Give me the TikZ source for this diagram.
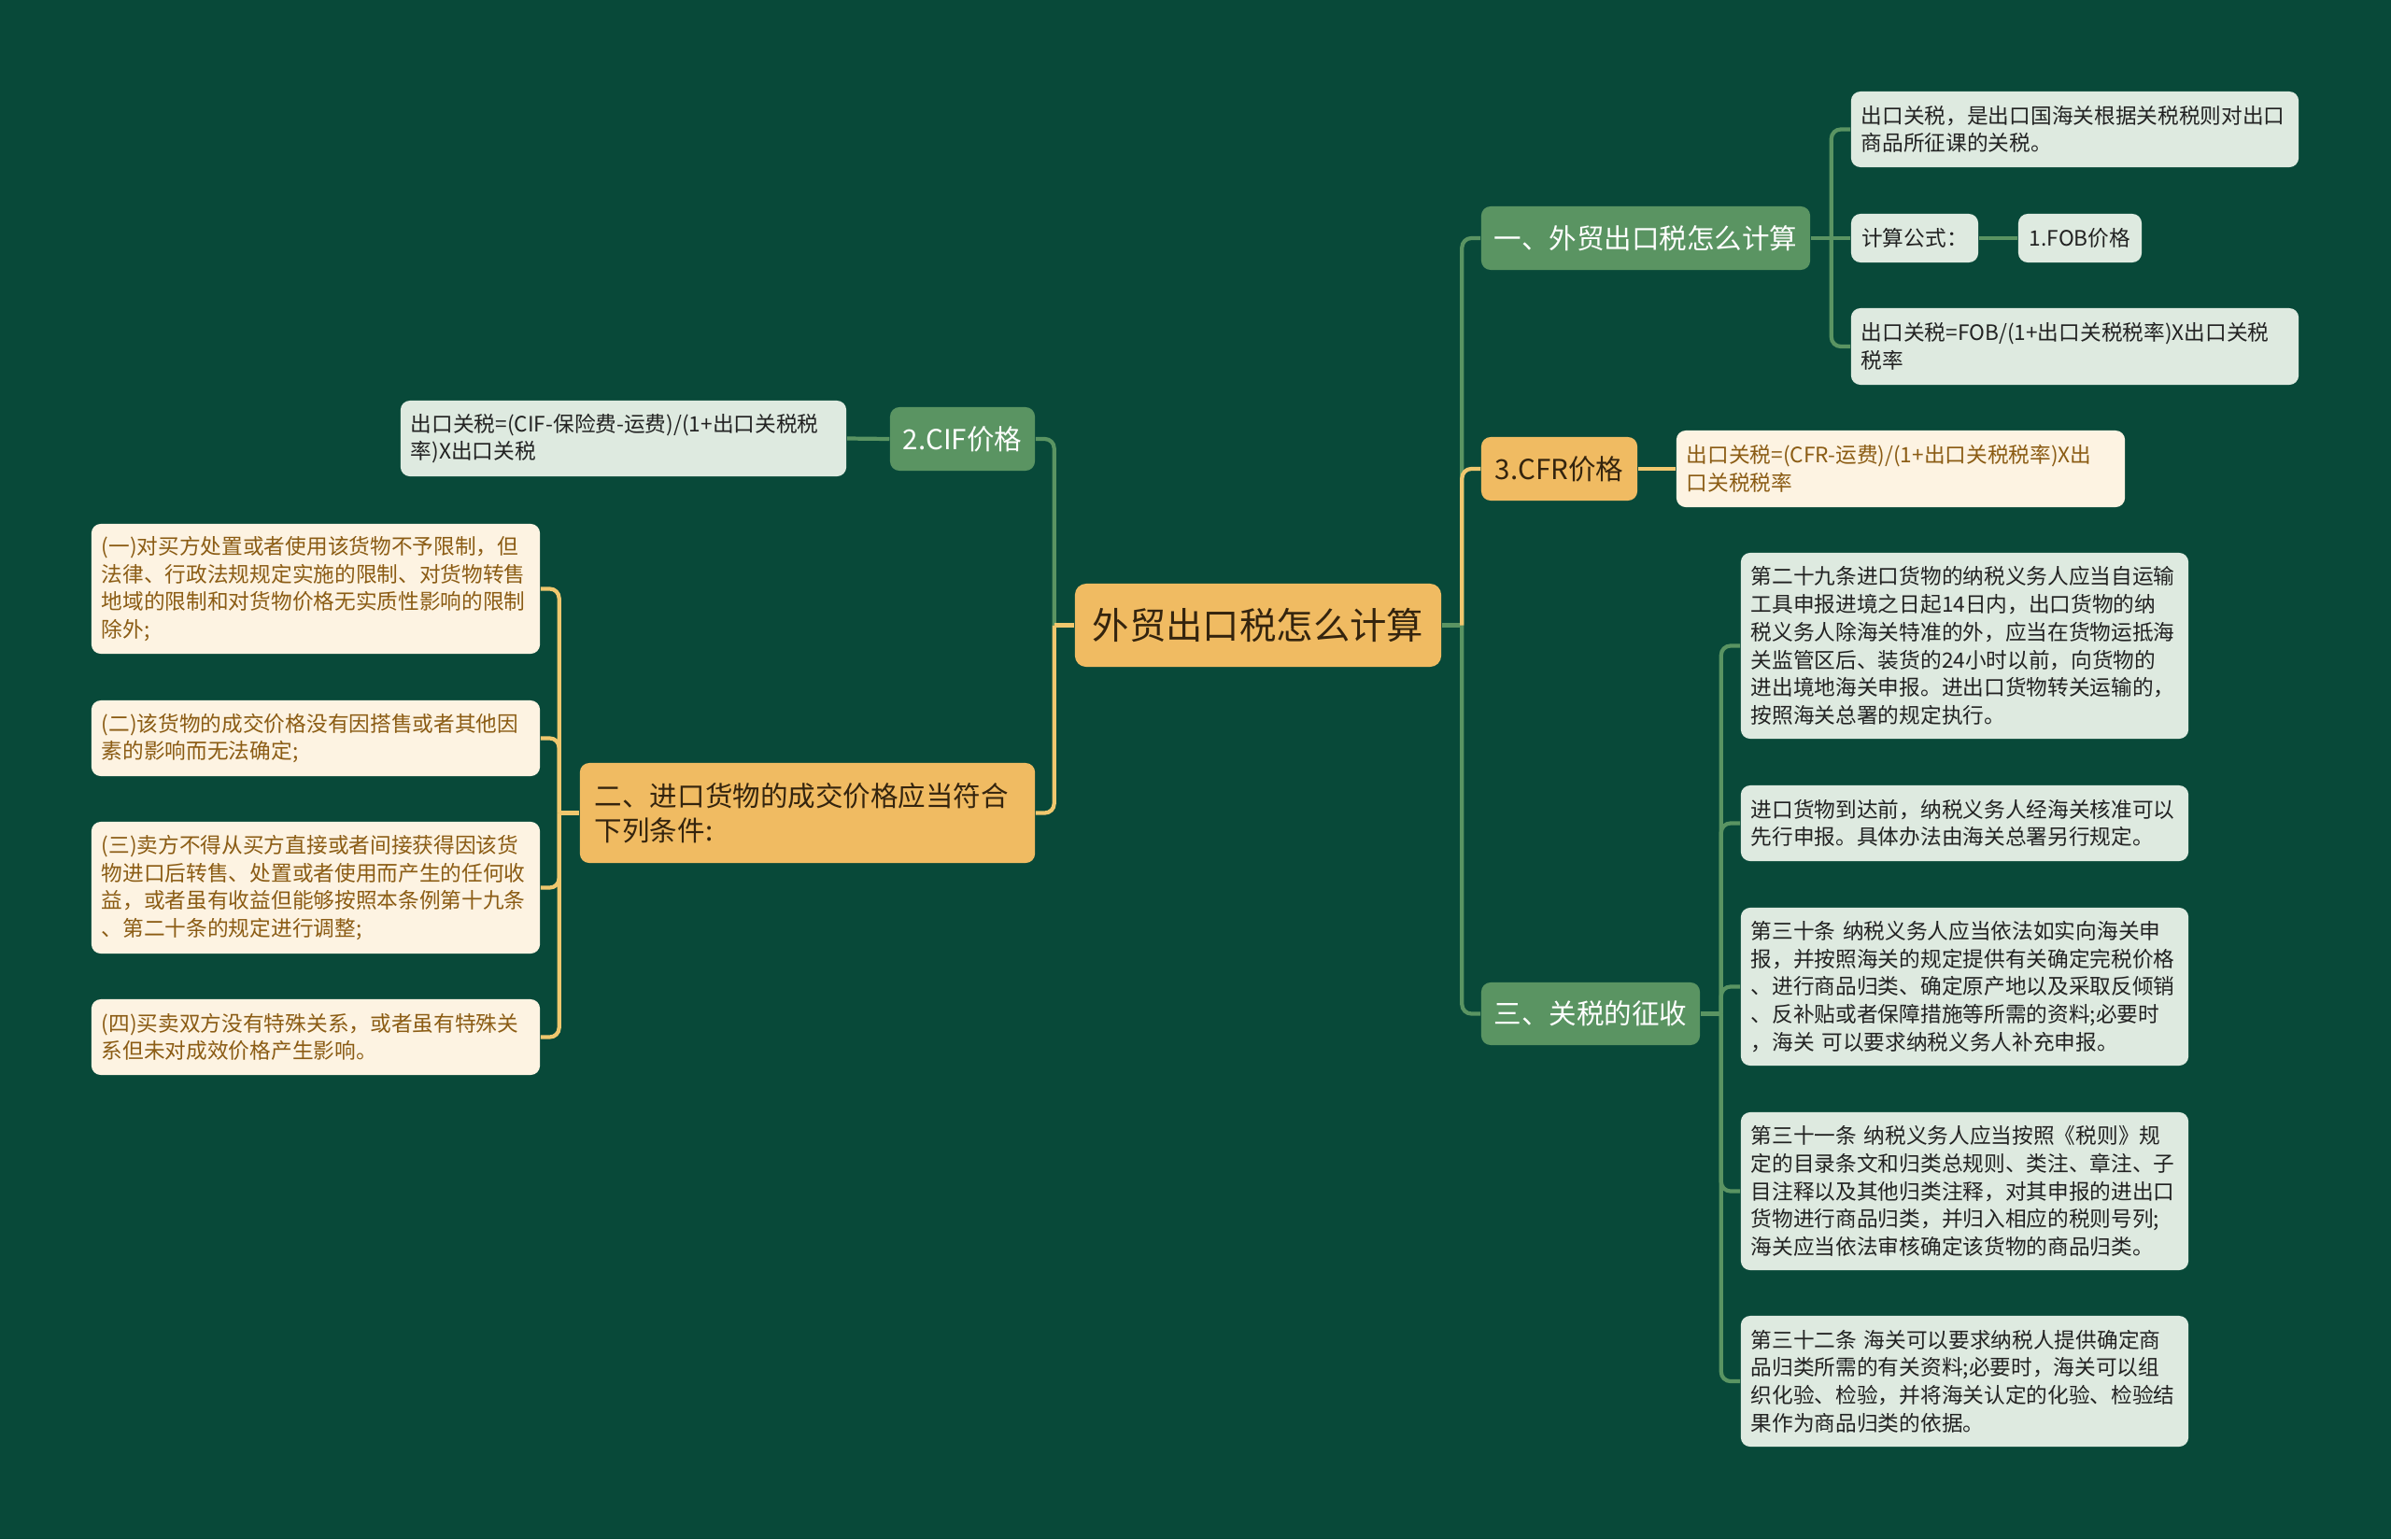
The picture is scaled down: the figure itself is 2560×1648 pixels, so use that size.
\documentclass[tikz,border=0pt]{standalone}
\usepackage{fontspec}
\setmainfont{Noto Sans CJK SC}
\usepackage{tikz}
\definecolor{bgdark}{RGB}{8, 73, 57}
\definecolor{nodegreen}{RGB}{90, 148, 98}
\definecolor{topicorange}{RGB}{240, 187, 98}
\definecolor{topicink}{RGB}{52, 36, 14}
\definecolor{leafmint}{RGB}{222, 234, 224}
\definecolor{leafink}{RGB}{34, 34, 34}
\definecolor{leafbeige}{RGB}{253, 243, 226}
\definecolor{leafbrown}{RGB}{139, 92, 20}
\definecolor{linkyellow}{RGB}{240, 199, 110}

\begin{document}
\begin{tikzpicture}[x=0.01cm, y=-0.01cm,
    topic/.style={fill=topicorange, text=topicink, rounded corners=0.12cm, inner sep=0pt, font=\fontsize{11.2pt}{13pt}\selectfont},
    branchgreen/.style={fill=nodegreen, text=white, rounded corners=0.1cm, inner sep=0pt, font=\fontsize{8.4pt}{10.4pt}\selectfont},
    branchorange/.style={fill=topicorange, text=topicink, rounded corners=0.1cm, inner sep=0pt, font=\fontsize{8.4pt}{10.4pt}\selectfont},
    leafbox/.style={fill=leafmint, text=leafink, rounded corners=0.1cm, inner xsep=0.11cm, inner ysep=0pt, align=left, font=\fontsize{6.45pt}{8.45pt}\selectfont},
    leafcream/.style={leafbox, fill=leafbeige, text=leafbrown},
    greenlink/.style={draw=nodegreen, line width=1.2pt, rounded corners=0.1cm},
    yellowlink/.style={draw=linkyellow, line width=1.2pt, rounded corners=0.1cm}]

    % Background
    \useasboundingbox (0,0) rectangle (2560,1648);
    \fill[bgdark] (0,0) rectangle (2560,1648);

    % ==== Central topic ====
    \node[topic, minimum width=3.92cm, minimum height=0.89cm] (root) at (1347,669.5) {外贸出口税怎么计算};

    % ==== Right: how to compute ====
    \node[branchgreen, minimum width=3.52cm, minimum height=0.68cm] (calc) at (1762,255) {一、外贸出口税怎么计算};
    \node[leafbox, minimum width=4.79cm, minimum height=0.81cm, text width=4.57cm] (calcdef) at (2221.5,138.5) {出口关税，是出口国海关根据关税税则对出口\\商品所征课的关税。};
    \node[leafbox, minimum width=1.36cm, minimum height=0.52cm, align=center, inner xsep=0pt] (formula) at (2050,255) {计算公式：};
    \node[leafbox, minimum width=1.32cm, minimum height=0.52cm, align=center, inner xsep=0pt] (fob) at (2227,255) {1.FOB价格};
    \node[leafbox, minimum width=4.79cm, minimum height=0.82cm, text width=4.57cm] (fobeq) at (2221.5,371) {出口关税=FOB/(1+出口关税税率)X出口关税\\税率};

    % ==== Right: CFR ====
    \node[branchorange, minimum width=1.67cm, minimum height=0.68cm] (cfr) at (1669.5,502) {3.CFR价格};
    \node[leafcream, minimum width=4.80cm, minimum height=0.82cm, text width=4.58cm] (cfreq) at (2035,502) {出口关税=(CFR-运费)/(1+出口关税税率)X出\\口关税税率};

    % ==== Right: levy ====
    \node[branchgreen, minimum width=2.34cm, minimum height=0.67cm] (levy) at (1703,1085.5) {三、关税的征收};
    \node[leafbox, minimum width=4.79cm, minimum height=1.99cm, text width=4.57cm] (art29) at (2103.5,691.5) {第二十九条进口货物的纳税义务人应当自运输\\工具申报进境之日起14日内，出口货物的纳\\税义务人除海关特准的外，应当在货物运抵海\\关监管区后、装货的24小时以前，向货物的\\进出境地海关申报。进出口货物转关运输的，\\按照海关总署的规定执行。};
    \node[leafbox, minimum width=4.79cm, minimum height=0.81cm, text width=4.57cm] (early) at (2103.5,881.5) {进口货物到达前，纳税义务人经海关核准可以\\先行申报。具体办法由海关总署另行规定。};
    \node[leafbox, minimum width=4.79cm, minimum height=1.69cm, text width=4.57cm] (art30) at (2103.5,1056.5) {第三十条~纳税义务人应当依法如实向海关申\\报，并按照海关的规定提供有关确定完税价格\\、进行商品归类、确定原产地以及采取反倾销\\、反补贴或者保障措施等所需的资料;必要时\\，海关~可以要求纳税义务人补充申报。};
    \node[leafbox, minimum width=4.79cm, minimum height=1.69cm, text width=4.57cm] (art31) at (2103.5,1275.5) {第三十一条~纳税义务人应当按照《税则》规\\定的目录条文和归类总规则、类注、章注、子\\目注释以及其他归类注释，对其申报的进出口\\货物进行商品归类，并归入相应的税则号列;\\海关应当依法审核确定该货物的商品归类。};
    \node[leafbox, minimum width=4.79cm, minimum height=1.40cm, text width=4.57cm] (art32) at (2103.5,1479) {第三十二条~海关可以要求纳税人提供确定商\\品归类所需的有关资料;必要时，海关可以组\\织化验、检验，并将海关认定的化验、检验结\\果作为商品归类的依据。};

    % ==== Left: CIF ====
    \node[branchgreen, minimum width=1.55cm, minimum height=0.68cm] (cif) at (1030.5,470) {2.CIF价格};
    \node[leafbox, minimum width=4.77cm, minimum height=0.81cm, text width=4.55cm] (cifeq) at (667.5,469.5) {出口关税=(CIF-保险费-运费)/(1+出口关税税\\率)X出口关税};

    % ==== Left: conditions ====
    \node[branchorange, minimum width=4.87cm, minimum height=1.07cm, align=left, text width=4.55cm, inner xsep=0.16cm] (cond) at (864.5,870.5) {二、进口货物的成交价格应当符合\\下列条件:};
    \node[leafcream, minimum width=4.80cm, minimum height=1.39cm, text width=4.58cm] (cond1) at (338,630.5) {(一)对买方处置或者使用该货物不予限制，但\\法律、行政法规规定实施的限制、对货物转售\\地域的限制和对货物价格无实质性影响的限制\\除外;};
    \node[leafcream, minimum width=4.80cm, minimum height=0.81cm, text width=4.58cm] (cond2) at (338,790.5) {(二)该货物的成交价格没有因搭售或者其他因\\素的影响而无法确定;};
    \node[leafcream, minimum width=4.80cm, minimum height=1.41cm, text width=4.58cm] (cond3) at (338,950.5) {(三)卖方不得从买方直接或者间接获得因该货\\物进口后转售、处置或者使用而产生的任何收\\益，或者虽有收益但能够按照本条例第十九条\\、第二十条的规定进行调整;};
    \node[leafcream, minimum width=4.80cm, minimum height=0.81cm, text width=4.58cm] (cond4) at (338,1110.5) {(四)买卖双方没有特殊关系，或者虽有特殊关\\系但未对成效价格产生影响。};

    % ==== Connectors ====
    \coordinate (rightfork) at ([xshift=0.215cm]root.east);
    \coordinate (leftfork) at ([xshift=-0.215cm]root.west);
    \coordinate (calcfork) at ([xshift=0.22cm]calc.east);
    \coordinate (levyfork) at ([xshift=0.22cm]levy.east);
    \coordinate (condfork) at ([xshift=-0.215cm]cond.west);

    \draw[greenlink] (root.east) -- (rightfork);
    \draw[greenlink] (rightfork) |- (calc.west);
    \draw[greenlink] (rightfork) |- (levy.west);
    \draw[yellowlink] (rightfork) |- (cfr.west);
    \draw[greenlink] (leftfork) |- (cif.east);
    \draw[yellowlink] (leftfork) |- (cond.east);
    \draw[yellowlink] (root.west) -- (leftfork);

    \draw[greenlink] (calc.east) -- (formula.west);
    \draw[greenlink] (formula.east) -- (fob.west);
    \draw[greenlink] (calcfork) |- (calcdef.west);
    \draw[greenlink] (calcfork) |- (fobeq.west);

    \draw[yellowlink] (cfr.east) -- (cfreq.west);

    \draw[greenlink] (levy.east) -- (levyfork);
    \foreach \leaf in {art29, early, art30, art31, art32}
        \draw[greenlink] (levyfork) |- (\leaf.west);

    \draw[greenlink] (cif.west) -- (cifeq.east);

    \draw[yellowlink] (cond.west) -- (condfork);
    \foreach \leaf in {cond1, cond2, cond3, cond4}
        \draw[yellowlink] (condfork) |- (\leaf.east);
\end{tikzpicture}
\end{document}
